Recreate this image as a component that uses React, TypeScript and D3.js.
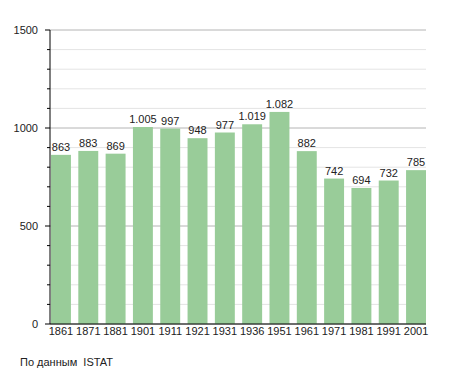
import * as d3 from "d3";

const years = ["1861", "1871", "1881", "1901", "1911", "1921", "1931", "1936", "1951", "1961", "1971", "1981", "1991", "2001"];
const population = [863, 883, 869, 1005, 997, 948, 977, 1019, 1082, 882, 742, 694, 732, 785];
const yTicks = [0, 500, 1000, 1500];

const fmt = (v: number) => (v >= 1000 ? d3.format(",")(v).replace(",", ".") : String(v));

export default function App() {
  const width = 455;
  const height = 373;
  const left = 50;
  const right = 426;
  const top = 30;
  const bottom = 324;

  const x = d3.scaleBand<string>().domain(years).range([left + 1, right]).paddingInner(0.27).paddingOuter(0);
  const y = d3.scaleLinear().domain([0, 1500]).range([bottom, top]);
  const minor = d3.range(0, 1501, 100);
  const font = "Liberation Sans, Arial, sans-serif";

  return (
    <svg width={width} height={height} style={{ position: "absolute", left: 0, top: 0 }} fontFamily={font}>
      <rect width={width} height={height} fill="#fff" />
      {minor.map((v) => (
        <line key={"g" + v} x1={left} x2={right} y1={y(v)} y2={y(v)}
          stroke={v % 500 === 0 ? "#b4b4b4" : "#e4e4e4"} strokeWidth={1} />
      ))}
      {years.map((yr, i) => (
        <rect key={yr} x={x(yr)} y={y(population[i])} width={x.bandwidth()} height={bottom - y(population[i])} fill="#99cc99" />
      ))}
      {years.map((yr, i) => (
        <text key={"l" + yr} x={(x(yr) ?? 0) + x.bandwidth() / 2} y={y(population[i]) - 4} textAnchor="middle" fontSize={11} fill="#222">
          {fmt(population[i])}
        </text>
      ))}
      <line x1={left} x2={left} y1={top} y2={bottom} stroke="#000" />
      <line x1={left} x2={right} y1={bottom} y2={bottom} stroke="#000" />
      {minor.map((v) => (
        <line key={"t" + v} x1={v % 500 === 0 ? left - 5 : left - 3} x2={left} y1={y(v)} y2={y(v)} stroke="#000" />
      ))}
      {yTicks.map((v) => (
        <text key={"y" + v} x={38} y={y(v)} dy="0.35em" textAnchor="end" fontSize={11} fill="#222">{v}</text>
      ))}
      {years.map((yr) => (
        <text key={"x" + yr} x={(x(yr) ?? 0) + x.bandwidth() / 2} y={bottom + 11} textAnchor="middle" fontSize={11} fill="#222">{yr}</text>
      ))}
      <text x={20} y={366} fontSize={11} fill="#222" style={{ whiteSpace: "pre" }}>{"По данным  ISTAT"}</text>
    </svg>
  );
}
